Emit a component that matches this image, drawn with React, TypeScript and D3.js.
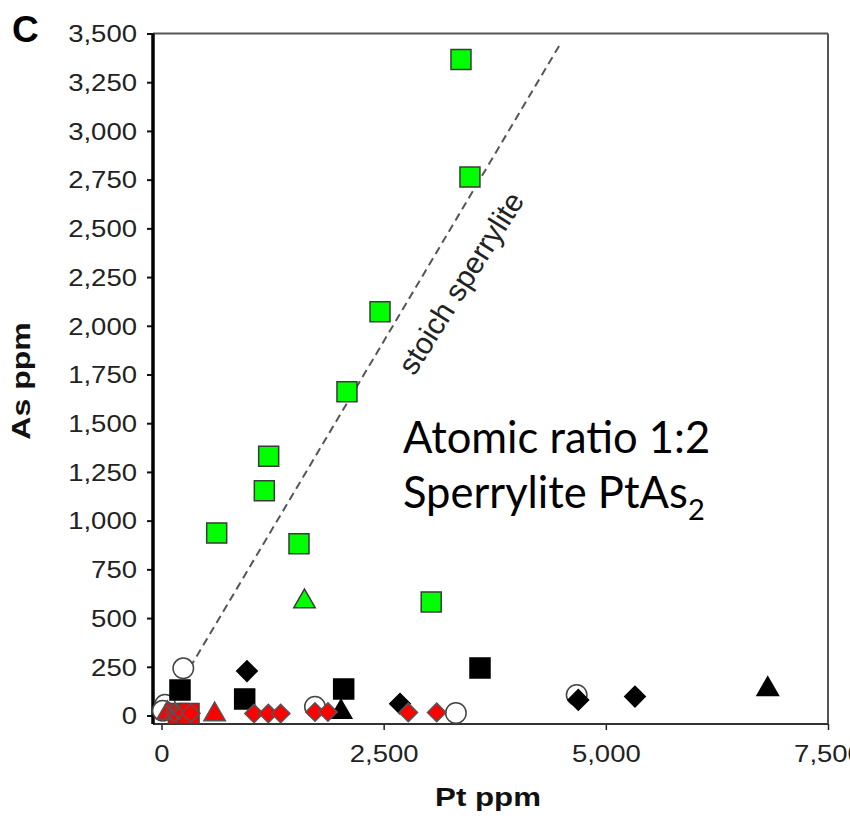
import React, { useRef, useEffect } from "react";
import * as d3 from "d3";

// values (Pt ppm / As ppm)
const greenSquarePt = [3370, 3471, 2459, 2087, 1206, 1157, 621, 1547, 3035];
const greenSquareAs = [3367, 2763, 2072, 1662, 1331, 1153, 937, 881, 583];
const greenTriPt = [1609];
const greenTriAs = [585];
const blackSquarePt = [208, 936, 2050, 3584];
const blackSquareAs = [131, 85, 136, 244];
const blackTriPt = [2020, 6822];
const blackTriAs = [18, 135];
const blackDiamondPt = [962, 2684, 4690, 5328];
const blackDiamondAs = [228, 60, 80, 97];
const openCirclePt = [245, 1727, 3313, 4672, 40, 15];
const openCircleAs = [242, 45, 13, 105, 55, 25];
const redSquarePt = [190, 310];
const redSquareAs = [10, 10];
const redTriPt = [68, 598];
const redTriAs = [12, 5];
const redDiamondPt = [150, 330, 1041, 1202, 1341, 1727, 1873, 2777, 3097];
const redDiamondAs = [15, 12, 10, 10, 10, 18, 18, 16, 16];
const crossPt = [110, 140];
const crossAs = [22, 14];

const yTicks = d3.range(0, 3501, 250);
const xTicks = [0, 2500, 5000, 7500];
const sperryliteRatio = 0.768; // As/Pt by weight in PtAs2
const lineFrom = 320;
const lineTo = 4480;

const App = () => {
  const ref = useRef<SVGSVGElement>(null);

  useEffect(() => {
    const svg = d3.select(ref.current);
    svg.selectAll("*").remove();

    const left = 153, right = 828, top = 33.5, bottom = 724;
    const x = d3.scaleLinear().domain([0, 7500]).range([161.5, 828]);
    const y = d3.scaleLinear().domain([0, 3500]).range([715.5, 33.5]);
    const tickFont = "'Liberation Sans', Arial, sans-serif";

    // y axis
    const gy = svg
      .append("g")
      .attr("transform", `translate(${left},0)`)
      .call(d3.axisLeft(y).tickValues(yTicks).tickFormat(d3.format(",")).tickSize(6));
    gy.select(".domain").remove();
    gy.selectAll(".tick line").attr("stroke", "#111").attr("stroke-width", 2);
    gy.selectAll(".tick text")
      .attr("x", -13.7)
      .attr("dy", "0.35em")
      .attr("transform", "scale(1.17,1)")
      .style("font-family", tickFont)
      .style("font-size", "23.5px")
      .attr("fill", "#222");

    // x axis
    const gx = svg
      .append("g")
      .attr("transform", `translate(0,${bottom})`)
      .call(d3.axisBottom(x).tickValues(xTicks).tickFormat(d3.format(",")).tickSize(6));
    gx.select(".domain").remove();
    gx.selectAll(".tick line").attr("stroke", "#222").attr("stroke-width", 1.5);
    gx.selectAll(".tick text")
      .attr("y", 38)
      .attr("dy", 0)
      .attr("transform", "scale(1.17,1)")
      .style("font-family", tickFont)
      .style("font-size", "23.5px")
      .attr("fill", "#222");

    // frame
    svg.append("line").attr("x1", left).attr("x2", right).attr("y1", top).attr("y2", top)
      .attr("stroke", "#555").attr("stroke-width", 2);
    svg.append("line").attr("x1", right).attr("x2", right).attr("y1", top).attr("y2", bottom)
      .attr("stroke", "#555").attr("stroke-width", 2);
    svg.append("line").attr("x1", left).attr("x2", right).attr("y1", bottom).attr("y2", bottom)
      .attr("stroke", "#333").attr("stroke-width", 2);
    svg.append("line").attr("x1", left).attr("x2", left).attr("y1", top).attr("y2", bottom)
      .attr("stroke", "#000").attr("stroke-width", 3.5);

    // stoichiometric line
    svg.append("line")
      .attr("x1", x(lineFrom)).attr("y1", y(lineFrom * sperryliteRatio))
      .attr("x2", x(lineTo)).attr("y2", y(lineTo * sperryliteRatio))
      .attr("stroke", "#555").attr("stroke-width", 2).attr("stroke-dasharray", "8,5");

    const dx = x(1000) - x(0);
    const dy = y(0) - y(1000 * sperryliteRatio);
    const angle = (Math.atan2(dy, dx) * 180) / Math.PI - 1.5;
    const lp = 3021;
    svg.append("text")
      .attr("transform", `translate(${x(lp)},${y(lp * sperryliteRatio)}) rotate(${-angle})`)
      .attr("y", 47)
      .attr("text-anchor", "middle")
      .style("font-family", tickFont)
      .style("font-size", "30px")
      .attr("fill", "#222")
      .text("stoich sperrylite");

    const draw = (pts: number[], as: number[], type: any, size: number, fill: string,
      stroke: string, rot = 0, sw = 1.5) => {
      svg.append("g")
        .selectAll("path")
        .data(pts.map((p, i) => [p, as[i]]))
        .join("path")
        .attr("d", d3.symbol().type(type).size(size)())
        .attr("transform", (d) => `translate(${x(d[0])},${y(d[1])}) rotate(${rot})`)
        .attr("fill", fill)
        .attr("stroke", stroke)
        .attr("stroke-width", sw);
    };

    draw(openCirclePt, openCircleAs, d3.symbolCircle, 330, "#fff", "#444");
    draw(greenSquarePt, greenSquareAs, d3.symbolSquare, 400, "#00ff00", "#3a3a3a");
    draw(greenTriPt, greenTriAs, d3.symbolTriangle, 200, "#00ff00", "#3a3a3a");
    draw(blackSquarePt, blackSquareAs, d3.symbolSquare, 400, "#000", "#000");
    draw(blackTriPt, blackTriAs, d3.symbolTriangle, 200, "#000", "#000");
    draw(blackDiamondPt, blackDiamondAs, d3.symbolSquare, 210, "#000", "#000", 45);
    draw(redSquarePt, redSquareAs, d3.symbolSquare, 400, "#ff0000", "#444");
    draw(redTriPt, redTriAs, d3.symbolTriangle, 200, "#ff0000", "#555");
    draw(redDiamondPt, redDiamondAs, d3.symbolSquare, 170, "#ff0000", "#555", 45);
    draw(crossPt, crossAs, d3.symbolX, 120, "none", "#555");

    // axis titles
    svg.append("text")
      .attr("transform", `translate(30,381) rotate(-90) scale(1.28,1)`)
      .attr("text-anchor", "middle")
      .style("font-family", tickFont)
      .style("font-weight", "bold")
      .style("font-size", "25px")
      .attr("fill", "#111")
      .text("As ppm");
    svg.append("text")
      .attr("transform", `translate(488,806) scale(1.25,1)`)
      .attr("text-anchor", "middle")
      .style("font-family", tickFont)
      .style("font-weight", "bold")
      .style("font-size", "25px")
      .attr("fill", "#111")
      .text("Pt ppm");

    svg.append("text")
      .attr("x", 12).attr("y", 42)
      .style("font-family", tickFont)
      .style("font-weight", "bold")
      .style("font-size", "37px")
      .attr("fill", "#000")
      .text("C");

    // annotation
    const note = svg.append("g")
      .style("font-family", "Lato, 'Open Sans', sans-serif")
      .style("font-size", "43.5px")
      .attr("fill", "#000");
    note.append("text").attr("x", 403).attr("y", 453).text("Atomic ratio 1:2");
    const t2 = note.append("text").attr("x", 403).attr("y", 508).text("Sperrylite PtAs");
    t2.append("tspan").attr("dy", 12).style("font-size", "29px").text("2");
  }, []);

  return (
    <svg ref={ref} width={850} height={818}
      style={{ position: "absolute", left: 0, top: 0, background: "#fff" }} />
  );
};

export default App;
